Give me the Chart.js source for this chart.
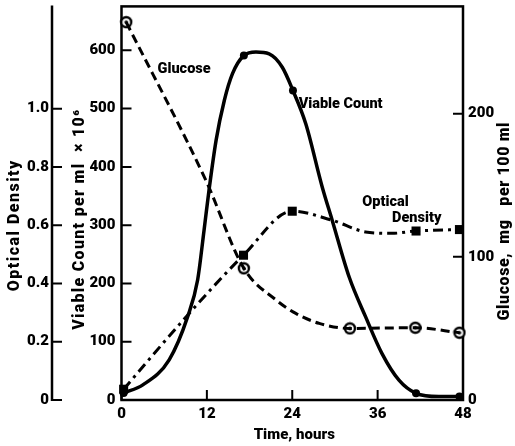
<!DOCTYPE html>
<html>
<head>
<meta charset="utf-8">
<script src="https://cdn.jsdelivr.net/npm/chart.js@4"></script>
<style>
  html, body { margin: 0; padding: 0; background: #fff; }
  #growth { display: block; }
</style>
</head>
<body>
<canvas id="growth" width="515" height="446"></canvas>
<script>
// tick labels
const TIME_TICKS = [0, 12, 24, 36, 48];
const OD_TICKS = [0, 0.2, 0.4, 0.6, 0.8, 1.0];
const VC_TICKS = [0, 100, 200, 300, 400, 500, 600];
const GLU_TICKS = [0, 100, 200];

const vcTimes = [0.3, 17.2, 24.1, 41.4, 47.5];
const vcValues = [12, 591, 531, 11.5, 6];
const vcTraceTimes = [3.0, 6.7, 9.3, 10.7, 11.6, 12.3, 13.3, 14.45, 15.6, 18.9, 20.75, 22.6, 25.9, 28.2, 29.6, 32.0, 34.3, 36.6, 39.0, 44.6];
const vcTraceValues = [26, 69, 143, 206, 291, 360, 446, 514, 560, 597, 594, 571, 474, 366, 309, 211, 143, 80, 34, 6];

// glucose (mg per 100 ml)
const gluTimes = [0.66, 17.2, 32.1, 41.3, 47.5];
const gluValues = [264, 92, 50, 50.5, 47];
const gluTraceTimes = [11.9, 21.7, 24.5, 27.8];
const gluTraceValues = [153, 70, 60.5, 53.5];

// optical density
const odTimes = [0.3, 17.15, 24.0, 41.4, 47.5];
const odValues = [0.037, 0.497, 0.648, 0.58, 0.585];
const odTraceTimes = [9.1, 29.6, 34.3, 38.0];
const odTraceValues = [0.286, 0.617, 0.577, 0.572];

const FONT = 'Roboto, "Liberation Sans", Arial, sans-serif';

function pts(xs, ys) {
  return xs.map((x, i) => ({ x: x, y: ys[i] }));
}
function curve(xs, ys, txs, tys) {
  return pts(xs, ys).concat(pts(txs, tys)).sort((a, b) => a.x - b.x);
}

// circle with a dot in the middle, for glucose
const dotRing = document.createElement("canvas");
dotRing.width = 14;
dotRing.height = 14;
(function () {
  const c = dotRing.getContext("2d");
  c.fillStyle = "#fff";
  c.strokeStyle = "#000";
  c.lineWidth = 2.4;
  c.beginPath();
  c.arc(7, 7, 5, 0, Math.PI * 2);
  c.fill();
  c.stroke();
  c.fillStyle = "#000";
  c.beginPath();
  c.arc(7, 7, 1.8, 0, Math.PI * 2);
  c.fill();
})();

// vertical axes: fixed width, no extra label padding
function fixY(width) {
  return s => {
    s.width = width;
    s.paddingTop = 0;
    s.paddingBottom = 0;
  };
}

// frame, inward tick marks, axis titles and curve labels
const decorations = {
  id: "decorations",
  beforeDatasetsDraw(chart) {
    const { ctx, chartArea: a, scales } = chart;
    ctx.save();
    ctx.strokeStyle = "#000";
    ctx.lineWidth = 2.5;
    ctx.strokeRect(a.left, a.top, a.right - a.left, a.bottom - a.top);
    const odX = scales.yOD.right;
    ctx.beginPath();
    ctx.moveTo(odX, a.top - 1);
    ctx.lineTo(odX, a.bottom + 1);
    ctx.stroke();

    ctx.lineWidth = 2;
    ctx.beginPath();
    TIME_TICKS.forEach(v => {
      const x = scales.x.getPixelForValue(v);
      ctx.moveTo(x, a.bottom);
      ctx.lineTo(x, a.bottom - 10);
    });
    VC_TICKS.forEach(v => {
      const y = scales.yVC.getPixelForValue(v);
      ctx.moveTo(a.left, y);
      ctx.lineTo(a.left + 10, y);
    });
    OD_TICKS.forEach(v => {
      const y = scales.yOD.getPixelForValue(v);
      ctx.moveTo(odX, y);
      ctx.lineTo(odX + 10, y);
    });
    GLU_TICKS.forEach(v => {
      const y = scales.yG.getPixelForValue(v);
      ctx.moveTo(a.right, y);
      ctx.lineTo(a.right - 10, y);
    });
    ctx.stroke();
    ctx.restore();
  },
  afterDraw(chart) {
    const { ctx, chartArea: a, scales } = chart;
    const mid = (a.top + a.bottom) / 2;
    ctx.save();
    ctx.fillStyle = "#000";
    ctx.textAlign = "center";
    ctx.textBaseline = "middle";

    const vertical = (text, x, y, spacing) => {
      ctx.save();
      ctx.letterSpacing = spacing + "px";
      ctx.translate(x, y);
      ctx.rotate(-Math.PI / 2);
      ctx.fillText(text, 0, 0);
      ctx.restore();
    };
    ctx.font = "900 16px " + FONT;
    vertical("Optical Density", scales.yOD.left + 15, mid + 22, 1.5);
    vertical("Viable Count per ml  \u00d7 10\u2076", scales.yVC.left + 28, mid + 16, 1.3);
    vertical("Glucose,  mg   per 100 ml", scales.yG.right - 10, mid + 18, 0.6);

    ctx.font = "900 15px " + FONT;
    ctx.fillText("Time, hours", (a.left + a.right) / 2 + 2, scales.x.bottom - 11);

    ctx.font = "900 14.5px " + FONT;
    const notes = [
      { text: "Glucose", t: 8.8, v: 568 },
      { text: "Viable Count", t: 30.8, v: 507 },
      { text: "Optical", t: 37.1, v: 339 },
      { text: "Density", t: 41.5, v: 312 }
    ];
    notes.forEach(n => {
      ctx.fillText(n.text, scales.x.getPixelForValue(n.t), scales.yVC.getPixelForValue(n.v));
    });
    ctx.restore();
  }
};

Chart.defaults.font.family = FONT;
Chart.defaults.font.weight = 900;
Chart.defaults.font.size = 15;
Chart.defaults.color = "#000";

const ctx = document.querySelector("#growth");

const myChart = new Chart(ctx, {
  type: "line",
  data: {
    datasets: [
      {
        // optical density, dash-dot line
        data: curve(odTimes, odValues, odTraceTimes, odTraceValues),
        yAxisID: "yOD",
        borderColor: "#000",
        borderWidth: 3,
        borderDash: [10, 5, 3, 5],
        cubicInterpolationMode: "monotone",
        pointRadius: 0,
        fill: false
      },
      {
        // glucose, dashed line
        data: curve(gluTimes, gluValues, gluTraceTimes, gluTraceValues),
        yAxisID: "yG",
        borderColor: "#000",
        borderWidth: 3,
        borderDash: [9, 5],
        cubicInterpolationMode: "monotone",
        pointRadius: 0,
        fill: false
      },
      {
        // viable count, solid line
        data: curve(vcTimes, vcValues, vcTraceTimes, vcTraceValues),
        yAxisID: "yVC",
        borderColor: "#000",
        borderWidth: 3.5,
        cubicInterpolationMode: "monotone",
        pointRadius: 0,
        fill: false
      },
      {
        data: pts(odTimes, odValues),
        yAxisID: "yOD",
        showLine: false,
        pointStyle: "rect",
        pointRadius: 6.4,
        backgroundColor: "#000",
        borderWidth: 0,
        clip: false
      },
      {
        data: pts(gluTimes, gluValues),
        yAxisID: "yG",
        showLine: false,
        pointStyle: dotRing,
        clip: false
      },
      {
        data: pts(vcTimes, vcValues),
        yAxisID: "yVC",
        showLine: false,
        pointStyle: "circle",
        pointRadius: 4,
        backgroundColor: "#000",
        borderWidth: 0,
        clip: false
      }
    ]
  },
  options: {
    responsive: false,
    devicePixelRatio: 1,
    animation: false,
    layout: { padding: { top: 6, left: 0, right: 0, bottom: 0 } },
    plugins: {
      legend: false,
      tooltip: { enabled: false }
    },
    scales: {
      x: {
        type: "linear",
        position: "bottom",
        min: 0,
        max: 48,
        afterBuildTicks: s => { s.ticks = TIME_TICKS.map(v => ({ value: v })); },
        afterFit: s => { s.height = 46; s.paddingLeft = 0; s.paddingRight = 0; },
        grid: { display: false, drawTicks: false },
        border: { display: false },
        ticks: { padding: 5, maxRotation: 0 }
      },
      yOD: {
        type: "linear",
        position: "left",
        weight: 2,
        min: 0,
        max: 1.351,
        afterBuildTicks: s => { s.ticks = OD_TICKS.map(v => ({ value: v })); },
        afterFit: fixY(52),
        grid: { display: false, drawTicks: false },
        border: { display: false },
        ticks: { padding: 3, callback: v => (v === 0 ? "0" : v.toFixed(1)) }
      },
      yVC: {
        type: "linear",
        position: "left",
        weight: 1,
        min: 0,
        max: 675.4,
        afterBuildTicks: s => { s.ticks = VC_TICKS.map(v => ({ value: v })); },
        afterFit: fixY(69.5),
        grid: { display: false, drawTicks: false },
        border: { display: false },
        ticks: { padding: 6 }
      },
      yG: {
        type: "linear",
        position: "right",
        min: 0,
        max: 275,
        afterBuildTicks: s => { s.ticks = GLU_TICKS.map(v => ({ value: v })); },
        afterFit: fixY(52),
        grid: { display: false, drawTicks: false },
        border: { display: false },
        ticks: { padding: 5 }
      }
    }
  },
  plugins: [decorations]
});
</script>
</body>
</html>
